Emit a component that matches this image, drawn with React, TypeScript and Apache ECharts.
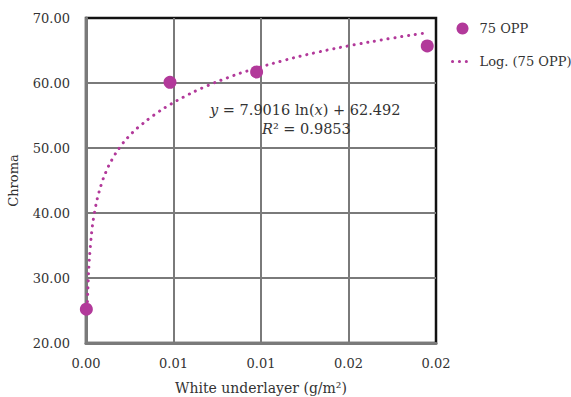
import React, { useEffect, useRef } from "react";
import * as echarts from "echarts";

const seriesName = "75 OPP";
const trendName = "Log. (75 OPP)";
const pointX = [0.00002, 0.0048, 0.00975, 0.0195];
const pointY = [25.2, 60.1, 61.7, 65.7];
const trendX = [0.00007, 0.0001, 0.00015, 0.0002, 0.0003, 0.0004, 0.0006, 0.0008, 0.001, 0.0013, 0.0017, 0.0022, 0.0028, 0.0035, 0.0043, 0.0052, 0.0062, 0.0074, 0.0088, 0.0104, 0.0122, 0.0142, 0.0164, 0.0185, 0.0194];
const trendY = [25.3, 27.7, 30.9, 33.2, 36.4, 38.7, 41.7, 43.75, 45.4, 47.3, 49.2, 51.05, 52.75, 54.3, 55.85, 57.3, 58.7, 60.1, 61.5, 62.8, 64.1, 65.3, 66.4, 67.35, 67.7];
const xTickLabels = ["0.00", "0.01", "0.01", "0.02", "0.02"];
const yTickLabels = ["20.00", "30.00", "40.00", "50.00", "60.00", "70.00"];
const xTitle = "White underlayer (g/m²)";
const yTitle = "Chroma";

const COLOR = "#B2399A";
const FONT = "DejaVu Serif";
const DOTS = { color: COLOR, width: 3, type: [0.1, 6.8], cap: "round" };

export default function App() {
  const ref = useRef<HTMLDivElement>(null);
  useEffect(() => {
    if (!ref.current) return;
    const chart = echarts.init(ref.current, undefined, { renderer: "svg" });
    chart.setOption({
      animation: false,
      backgroundColor: "#fff",
      textStyle: { fontFamily: FONT },
      grid: {
        left: 86, top: 18, right: 135, bottom: 54,
        containLabel: false, outerBoundsMode: "none",
        show: true, borderColor: "#111", borderWidth: 2.5, backgroundColor: "transparent",
      },
      legend: {
        orient: "vertical", left: 446, top: 17, itemGap: 20,
        itemWidth: 20, itemHeight: 12,
        textStyle: { fontFamily: FONT, fontSize: 13, color: "#333", padding: [0, 0, 0, 2] },
        data: [
          { name: seriesName, icon: "circle" },
          { name: trendName, itemStyle: { opacity: 0 }, lineStyle: DOTS },
        ],
      },
      xAxis: {
        type: "value", min: 0, max: 0.02, interval: 0.005,
        name: xTitle, nameLocation: "middle", nameGap: 38,
        nameTextStyle: { fontFamily: FONT, fontSize: 14, color: "#333" },
        axisLine: { show: true, onZero: false, lineStyle: { color: "#7a7a7a", width: 3 } },
        axisTick: { show: false },
        axisLabel: {
          margin: 14, fontFamily: FONT, fontSize: 13, color: "#333",
          formatter: (_v: number, i: number) => xTickLabels[i] ?? "",
        },
        splitLine: { show: true, showMaxLine: false, lineStyle: { color: "#7a7a7a", width: 2 } },
      },
      yAxis: {
        type: "value", min: 20, max: 70, interval: 10,
        name: yTitle, nameLocation: "middle", nameGap: 66, nameRotate: 90,
        nameTextStyle: { fontFamily: FONT, fontSize: 13, color: "#333" },
        axisLine: { show: true, onZero: false, lineStyle: { color: "#7a7a7a", width: 3 } },
        axisTick: { show: false },
        axisLabel: {
          margin: 16, fontFamily: FONT, fontSize: 13, color: "#333",
          formatter: (_v: number, i: number) => yTickLabels[i] ?? "",
        },
        splitLine: { show: true, showMaxLine: false, lineStyle: { color: "#7a7a7a", width: 2 } },
      },
      series: [
        {
          name: trendName, type: "line", smooth: 0.2, symbol: "none", z: 3,
          data: trendX.map((x, i) => [x, trendY[i]]),
          lineStyle: DOTS,
          itemStyle: { color: COLOR },
        },
        {
          name: seriesName, type: "scatter", symbolSize: 13, z: 4,
          data: pointX.map((x, i) => [x, pointY[i]]),
          itemStyle: { color: COLOR, opacity: 1 },
        },
      ],
      graphic: [
        {
          type: "text", left: 210, top: 102, z: 10,
          style: {
            text: "{i|y} = 7.9016 ln({i|x}) + 62.492",
            fontFamily: FONT, fontSize: 14.5, fill: "#333",
            rich: { i: { fontStyle: "italic", fontFamily: FONT, fontSize: 14.5, fill: "#333" } },
          },
        },
        {
          type: "text", left: 262, top: 121, z: 10,
          style: {
            text: "{i|R}² = 0.9853",
            fontFamily: FONT, fontSize: 14.5, fill: "#333",
            rich: { i: { fontStyle: "italic", fontFamily: FONT, fontSize: 14.5, fill: "#333" } },
          },
        },
      ],
    });
    return () => chart.dispose();
  }, []);
  return <div ref={ref} style={{ width: 571, height: 397, position: "absolute", left: 0, top: 0 }} />;
}
